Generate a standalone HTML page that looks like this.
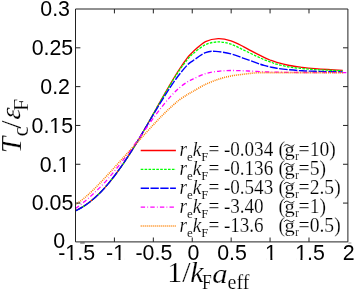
<!DOCTYPE html>
<html><head><meta charset="utf-8"><title>chart</title>
<style>
html,body{margin:0;padding:0;background:#fff;}
body{width:354px;height:290px;overflow:hidden;}
svg{display:block;will-change:transform;}
.s{font-family:"Liberation Sans",sans-serif;font-size:23px;fill:#000;}
.t{font-family:"Liberation Serif",serif;fill:#000;stroke:#fff;stroke-width:0.18px;paint-order:fill stroke;}
</style></head><body>
<svg width="354" height="290" viewBox="0 0 354 290">
<rect width="354" height="290" fill="#fff"/>
<path d="M75.50 210.80 C76.83 210.07 80.83 208.10 83.50 206.40 C86.17 204.70 88.83 202.78 91.50 200.60 C94.17 198.42 96.83 195.97 99.50 193.30 C102.17 190.63 104.83 187.73 107.50 184.60 C110.17 181.47 112.83 178.03 115.50 174.50 C118.17 170.97 120.83 167.28 123.50 163.40 C126.17 159.52 128.83 155.42 131.50 151.20 C134.17 146.98 136.83 142.60 139.50 138.10 C142.17 133.60 144.83 128.88 147.50 124.20 C150.17 119.52 152.83 114.73 155.50 110.00 C158.17 105.27 160.83 100.47 163.50 95.80 C166.17 91.13 168.83 86.47 171.50 82.00 C174.17 77.53 176.83 73.05 179.50 69.00 C182.17 64.95 185.28 60.55 187.50 57.70 C189.72 54.85 189.80 54.57 192.80 51.90 C195.80 49.23 201.25 43.92 205.50 41.70 C209.75 39.48 214.05 38.73 218.30 38.60 C222.55 38.47 226.75 39.53 231.00 40.90 C235.25 42.27 239.55 44.67 243.80 46.80 C248.05 48.93 253.13 51.93 256.50 53.70 C259.87 55.47 261.75 56.35 264.00 57.40 C266.25 58.45 267.87 59.17 270.00 60.00 C272.13 60.83 273.55 61.48 276.80 62.40 C280.05 63.32 285.25 64.68 289.50 65.50 C293.75 66.32 298.05 66.78 302.30 67.30 C306.55 67.82 310.75 68.23 315.00 68.60 C319.25 68.97 323.18 69.22 327.80 69.50 C332.42 69.78 340.22 70.17 342.70 70.30" fill="none" stroke="#ff0000" stroke-width="1.3"/>
<path d="M75.50 210.80 C76.83 210.07 80.83 208.10 83.50 206.40 C86.17 204.70 88.83 202.78 91.50 200.60 C94.17 198.42 96.83 195.97 99.50 193.30 C102.17 190.63 104.83 187.73 107.50 184.60 C110.17 181.47 112.83 178.03 115.50 174.50 C118.17 170.97 120.83 167.28 123.50 163.40 C126.17 159.52 128.83 155.42 131.50 151.20 C134.17 146.98 136.83 142.60 139.50 138.10 C142.17 133.60 144.83 128.88 147.50 124.20 C150.17 119.52 152.83 114.68 155.50 110.00 C158.17 105.32 160.83 100.67 163.50 96.10 C166.17 91.53 168.83 86.92 171.50 82.60 C174.17 78.28 176.83 74.07 179.50 70.20 C182.17 66.33 185.28 62.12 187.50 59.40 C189.72 56.68 189.80 56.35 192.80 53.90 C195.80 51.45 201.25 46.70 205.50 44.70 C209.75 42.70 214.05 41.98 218.30 41.90 C222.55 41.82 226.75 42.83 231.00 44.20 C235.25 45.57 239.55 48.10 243.80 50.10 C248.05 52.10 253.13 54.62 256.50 56.20 C259.87 57.78 261.75 58.67 264.00 59.60 C266.25 60.53 267.87 61.03 270.00 61.80 C272.13 62.57 273.55 63.33 276.80 64.20 C280.05 65.07 285.25 66.27 289.50 67.00 C293.75 67.73 298.05 68.17 302.30 68.60 C306.55 69.03 310.75 69.33 315.00 69.60 C319.25 69.87 323.18 70.00 327.80 70.20 C332.42 70.40 340.22 70.70 342.70 70.80" fill="none" stroke="#00ff00" stroke-width="1.3" stroke-dasharray="2.6 1.3"/>
<path d="M75.50 210.80 C76.83 210.07 80.83 208.10 83.50 206.40 C86.17 204.70 88.83 202.77 91.50 200.60 C94.17 198.43 96.83 196.07 99.50 193.40 C102.17 190.73 104.83 187.75 107.50 184.60 C110.17 181.45 112.83 178.07 115.50 174.50 C118.17 170.93 120.83 167.12 123.50 163.20 C126.17 159.28 128.83 155.22 131.50 151.00 C134.17 146.78 136.83 142.32 139.50 137.90 C142.17 133.48 144.83 128.98 147.50 124.50 C150.17 120.02 152.83 115.45 155.50 111.00 C158.17 106.55 160.83 102.07 163.50 97.80 C166.17 93.53 168.83 89.32 171.50 85.40 C174.17 81.48 176.83 77.72 179.50 74.30 C182.17 70.88 185.28 67.15 187.50 64.90 C189.72 62.65 189.80 62.83 192.80 60.80 C195.80 58.77 201.68 54.27 205.50 52.70 C209.32 51.13 211.45 51.20 215.70 51.40 C219.95 51.60 226.32 52.75 231.00 53.90 C235.68 55.05 239.55 56.80 243.80 58.30 C248.05 59.80 253.13 61.72 256.50 62.90 C259.87 64.08 261.75 64.73 264.00 65.40 C266.25 66.07 267.87 66.42 270.00 66.90 C272.13 67.38 273.55 67.82 276.80 68.30 C280.05 68.78 285.25 69.38 289.50 69.80 C293.75 70.22 298.05 70.55 302.30 70.80 C306.55 71.05 310.75 71.17 315.00 71.30 C319.25 71.43 323.18 71.50 327.80 71.60 C332.42 71.70 340.22 71.85 342.70 71.90" fill="none" stroke="#0000ff" stroke-width="1.4" stroke-dasharray="8.3 1.5"/>
<path d="M75.50 208.60 C76.83 207.56 80.83 204.54 83.50 202.36 C86.17 200.18 88.83 197.93 91.50 195.52 C94.17 193.11 96.83 190.58 99.50 187.88 C102.17 185.18 104.83 182.35 107.50 179.34 C110.17 176.33 112.83 173.09 115.50 169.80 C118.17 166.51 120.83 163.10 123.50 159.60 C126.17 156.10 128.83 152.47 131.50 148.80 C134.17 145.13 136.83 141.35 139.50 137.60 C142.17 133.85 144.83 130.03 147.50 126.30 C150.17 122.57 152.83 118.78 155.50 115.20 C158.17 111.62 160.83 108.08 163.50 104.80 C166.17 101.52 168.83 98.35 171.50 95.50 C174.17 92.65 176.83 89.98 179.50 87.70 C182.17 85.42 185.28 83.22 187.50 81.80 C189.72 80.38 189.80 80.57 192.80 79.20 C195.80 77.83 201.25 74.92 205.50 73.60 C209.75 72.28 214.05 71.82 218.30 71.30 C222.55 70.78 226.75 70.58 231.00 70.50 C235.25 70.42 239.55 70.65 243.80 70.80 C248.05 70.95 252.13 71.20 256.50 71.40 C260.87 71.60 262.75 71.82 270.00 72.00 C277.25 72.18 287.07 72.40 300.00 72.50 C312.93 72.60 339.67 72.58 347.60 72.60" fill="none" stroke="#ff00ff" stroke-width="1.3" stroke-dasharray="4.4 2.2 0.8 2.2"/>
<path d="M75.50 204.70 C76.83 203.70 80.83 200.88 83.50 198.70 C86.17 196.52 88.83 194.12 91.50 191.60 C94.17 189.08 96.83 186.35 99.50 183.60 C102.17 180.85 104.83 178.00 107.50 175.10 C110.17 172.20 112.83 169.13 115.50 166.20 C118.17 163.27 120.83 160.42 123.50 157.50 C126.17 154.58 128.83 151.63 131.50 148.70 C134.17 145.77 136.83 142.83 139.50 139.90 C142.17 136.97 144.83 134.00 147.50 131.10 C150.17 128.20 152.83 125.32 155.50 122.50 C158.17 119.68 160.83 116.85 163.50 114.20 C166.17 111.55 168.83 109.00 171.50 106.60 C174.17 104.20 176.83 101.82 179.50 99.80 C182.17 97.78 185.28 95.88 187.50 94.50 C189.72 93.12 189.80 93.18 192.80 91.50 C195.80 89.82 201.25 86.43 205.50 84.40 C209.75 82.37 214.05 80.70 218.30 79.30 C222.55 77.90 226.75 76.85 231.00 76.00 C235.25 75.15 239.55 74.73 243.80 74.20 C248.05 73.67 252.13 73.07 256.50 72.80 C260.87 72.53 262.75 72.63 270.00 72.60 C277.25 72.57 287.83 72.60 300.00 72.60 C312.17 72.60 335.83 72.60 343.00 72.60" fill="none" stroke="#ff8000" stroke-width="1.6" stroke-dasharray="1 1"/>
<g stroke="#222" stroke-width="1" fill="none">
<path d="M75.50 9.00 H347.90 V241.90 H75.50 Z"/>
<path d="M114.41 241.90 v-4.40 M114.41 9.00 v4.40"/>
<path d="M153.33 241.90 v-4.40 M153.33 9.00 v4.40"/>
<path d="M192.24 241.90 v-4.40 M192.24 9.00 v4.40"/>
<path d="M231.16 241.90 v-4.40 M231.16 9.00 v4.40"/>
<path d="M270.07 241.90 v-4.40 M270.07 9.00 v4.40"/>
<path d="M308.99 241.90 v-4.40 M308.99 9.00 v4.40"/>
<path d="M75.50 203.08 h4.90 M347.90 203.08 h-4.90"/>
<path d="M75.50 164.27 h4.90 M347.90 164.27 h-4.90"/>
<path d="M75.50 125.45 h4.90 M347.90 125.45 h-4.90"/>
<path d="M75.50 86.63 h4.90 M347.90 86.63 h-4.90"/>
<path d="M75.50 47.82 h4.90 M347.90 47.82 h-4.90"/>
</g>
<rect x="80.2" y="242.4" width="4.5" height="1.1" fill="#555"/>
<rect x="348.2" y="242.5" width="3.2" height="1.0" fill="#999"/>
<text class="s" text-anchor="middle" transform="translate(55.10 16.30) scale(0.93 1)">0.3</text>
<text class="s" text-anchor="middle" transform="translate(52.45 55.10) scale(0.93 1)">0.25</text>
<text class="s" text-anchor="middle" transform="translate(55.10 93.90) scale(0.93 1)">0.2</text>
<text class="s" text-anchor="middle" transform="translate(52.30 132.70) scale(0.93 1)">0.15</text>
<text class="s" text-anchor="middle" transform="translate(54.65 171.50) scale(0.93 1)">0.1</text>
<text class="s" text-anchor="middle" transform="translate(52.55 210.40) scale(0.93 1)">0.05</text>
<text class="s" text-anchor="middle" transform="translate(59.10 247.90) scale(0.93 1)">0</text>
<text class="s" text-anchor="middle" transform="translate(76.60 259.90) scale(0.93 1)">-1.5</text>
<text class="s" text-anchor="middle" transform="translate(115.60 259.90) scale(0.93 1)">-1</text>
<text class="s" text-anchor="middle" transform="translate(153.90 259.90) scale(0.93 1)">-0.5</text>
<text class="s" text-anchor="middle" transform="translate(193.40 259.90) scale(0.93 1)">0</text>
<text class="s" text-anchor="middle" transform="translate(232.00 259.90) scale(0.93 1)">0.5</text>
<text class="s" text-anchor="middle" transform="translate(271.00 259.90) scale(0.93 1)">1</text>
<text class="s" text-anchor="middle" transform="translate(310.00 259.90) scale(0.93 1)">1.5</text>
<text class="s" text-anchor="middle" transform="translate(348.70 259.90) scale(0.93 1)">2</text>
<rect x="50.37" y="130.70" width="4.28" height="2.6" fill="#fff"/><rect x="56.64" y="130.70" width="4.22" height="2.6" fill="#fff"/>
<rect x="58.67" y="169.50" width="4.28" height="2.6" fill="#fff"/><rect x="64.94" y="169.50" width="4.22" height="2.6" fill="#fff"/>
<rect x="66.34" y="257.90" width="4.28" height="2.6" fill="#fff"/><rect x="72.61" y="257.90" width="4.22" height="2.6" fill="#fff"/>
<rect x="114.26" y="257.90" width="4.28" height="2.6" fill="#fff"/><rect x="120.53" y="257.90" width="4.22" height="2.6" fill="#fff"/>
<rect x="266.10" y="257.90" width="4.28" height="2.6" fill="#fff"/><rect x="272.37" y="257.90" width="4.22" height="2.6" fill="#fff"/>
<rect x="296.18" y="257.90" width="4.28" height="2.6" fill="#fff"/><rect x="302.45" y="257.90" width="4.22" height="2.6" fill="#fff"/>
<path d="M140.7 150.50 H175.9" fill="none" stroke="#ff0000" stroke-width="1.3"/>
<path d="M140.7 169.30 H175.9" fill="none" stroke="#00ff00" stroke-width="1.3" stroke-dasharray="2.6 1.3"/>
<path d="M140.7 188.30 H175.9" fill="none" stroke="#0000ff" stroke-width="1.4" stroke-dasharray="8.3 1.5"/>
<path d="M140.7 207.10 H175.9" fill="none" stroke="#ff00ff" stroke-width="1.3" stroke-dasharray="4.4 2.2 0.8 2.2"/>
<path d="M140.7 226.00 H175.9" fill="none" stroke="#ff8000" stroke-width="1.6" stroke-dasharray="1 1"/>
<text class="t" font-size="20" transform="translate(179.60 156.30) scale(0.96 1)"><tspan font-style="italic">r</tspan><tspan font-size="13.5" dy="5" stroke-width="0.1">e</tspan><tspan font-style="italic" dy="-5">k</tspan><tspan font-size="13.5" dy="5" stroke-width="0.1">F</tspan><tspan dy="-5">=</tspan></text>
<text class="t" font-size="20" transform="translate(223.90 156.30) scale(0.955 1)">-0.034</text>
<text class="t" font-size="20" transform="translate(278.40 156.30) scale(0.98 1)">(</text>
<text class="t" font-size="19" transform="translate(284.50 156.30) scale(1.08 1)">g</text>
<text class="t" font-size="12.5" stroke="none" transform="translate(295.00 160.20) scale(0.98 1)">r</text>
<text class="t" font-size="20" transform="translate(298.60 156.30) scale(0.98 1)">=10)</text>
<path d="M284.00 146.40 c1.3 -2.2 3.4 -2.2 5.1 -0.9 s3.9 1.3 5.1 -0.9" fill="none" stroke="#111" stroke-width="0.95"/>
<text class="t" font-size="20" transform="translate(179.60 175.10) scale(0.96 1)"><tspan font-style="italic">r</tspan><tspan font-size="13.5" dy="5" stroke-width="0.1">e</tspan><tspan font-style="italic" dy="-5">k</tspan><tspan font-size="13.5" dy="5" stroke-width="0.1">F</tspan><tspan dy="-5">=</tspan></text>
<text class="t" font-size="20" transform="translate(223.90 175.10) scale(0.955 1)">-0.136</text>
<text class="t" font-size="20" transform="translate(278.40 175.10) scale(0.98 1)">(</text>
<text class="t" font-size="19" transform="translate(284.50 175.10) scale(1.08 1)">g</text>
<text class="t" font-size="12.5" stroke="none" transform="translate(295.00 179.00) scale(0.98 1)">r</text>
<text class="t" font-size="20" transform="translate(298.60 175.10) scale(0.98 1)">=5)</text>
<path d="M284.00 165.20 c1.3 -2.2 3.4 -2.2 5.1 -0.9 s3.9 1.3 5.1 -0.9" fill="none" stroke="#111" stroke-width="0.95"/>
<text class="t" font-size="20" transform="translate(179.60 194.10) scale(0.96 1)"><tspan font-style="italic">r</tspan><tspan font-size="13.5" dy="5" stroke-width="0.1">e</tspan><tspan font-style="italic" dy="-5">k</tspan><tspan font-size="13.5" dy="5" stroke-width="0.1">F</tspan><tspan dy="-5">=</tspan></text>
<text class="t" font-size="20" transform="translate(223.90 194.10) scale(0.955 1)">-0.543</text>
<text class="t" font-size="20" transform="translate(278.40 194.10) scale(0.98 1)">(</text>
<text class="t" font-size="19" transform="translate(284.50 194.10) scale(1.08 1)">g</text>
<text class="t" font-size="12.5" stroke="none" transform="translate(295.00 198.00) scale(0.98 1)">r</text>
<text class="t" font-size="20" transform="translate(298.60 194.10) scale(0.98 1)">=2.5)</text>
<path d="M284.00 184.20 c1.3 -2.2 3.4 -2.2 5.1 -0.9 s3.9 1.3 5.1 -0.9" fill="none" stroke="#111" stroke-width="0.95"/>
<text class="t" font-size="20" transform="translate(179.60 212.90) scale(0.96 1)"><tspan font-style="italic">r</tspan><tspan font-size="13.5" dy="5" stroke-width="0.1">e</tspan><tspan font-style="italic" dy="-5">k</tspan><tspan font-size="13.5" dy="5" stroke-width="0.1">F</tspan><tspan dy="-5">=</tspan></text>
<text class="t" font-size="20" transform="translate(223.90 212.90) scale(0.955 1)">-3.40</text>
<text class="t" font-size="20" transform="translate(278.40 212.90) scale(0.98 1)">(</text>
<text class="t" font-size="19" transform="translate(284.50 212.90) scale(1.08 1)">g</text>
<text class="t" font-size="12.5" stroke="none" transform="translate(295.00 216.80) scale(0.98 1)">r</text>
<text class="t" font-size="20" transform="translate(298.60 212.90) scale(0.98 1)">=1)</text>
<path d="M284.00 203.00 c1.3 -2.2 3.4 -2.2 5.1 -0.9 s3.9 1.3 5.1 -0.9" fill="none" stroke="#111" stroke-width="0.95"/>
<text class="t" font-size="20" transform="translate(179.60 231.80) scale(0.96 1)"><tspan font-style="italic">r</tspan><tspan font-size="13.5" dy="5" stroke-width="0.1">e</tspan><tspan font-style="italic" dy="-5">k</tspan><tspan font-size="13.5" dy="5" stroke-width="0.1">F</tspan><tspan dy="-5">=</tspan></text>
<text class="t" font-size="20" transform="translate(223.90 231.80) scale(0.955 1)">-13.6</text>
<text class="t" font-size="20" transform="translate(278.40 231.80) scale(0.98 1)">(</text>
<text class="t" font-size="19" transform="translate(284.50 231.80) scale(1.08 1)">g</text>
<text class="t" font-size="12.5" stroke="none" transform="translate(295.00 235.70) scale(0.98 1)">r</text>
<text class="t" font-size="20" transform="translate(298.60 231.80) scale(0.98 1)">=0.5)</text>
<path d="M284.00 221.90 c1.3 -2.2 3.4 -2.2 5.1 -0.9 s3.9 1.3 5.1 -0.9" fill="none" stroke="#111" stroke-width="0.95"/>
<text class="t" font-size="29" stroke="none" transform="translate(167.20 282.10) scale(1.03 1)">1/</text>
<text class="t" font-size="29" font-style="italic" stroke="none" transform="translate(190.30 282.10) scale(1.03 1)">k</text>
<text class="t" font-size="20" stroke="none" transform="translate(202.00 288.70) scale(0.88 1)">F</text>
<text class="t" font-size="27" font-style="italic" stroke="none" transform="translate(212.30 282.60) scale(1.14 1)">a</text>
<text class="t" font-size="20" stroke="none" transform="translate(227.60 288.70) scale(1.0 1)">eff</text>
<g transform="translate(21.0 153.3) rotate(-90)">
<text class="t" font-size="29.5" font-style="italic" stroke="none" transform="translate(0.00 0.00) scale(1 1)">T</text>
<text class="t" font-size="23" stroke="none" transform="translate(16.80 6.60) scale(1 1)">c</text>
<text class="t" font-size="30" stroke="none" transform="translate(24.60 0.00) scale(1 1)">/</text>
<text class="t" font-size="28" font-style="italic" stroke="none" transform="translate(33.2 -1.2) skewX(-8)">ε</text>
<text class="t" font-size="22" stroke="none" transform="translate(42.30 6.50) scale(1 1)">F</text>
</g>
</svg></body></html>
